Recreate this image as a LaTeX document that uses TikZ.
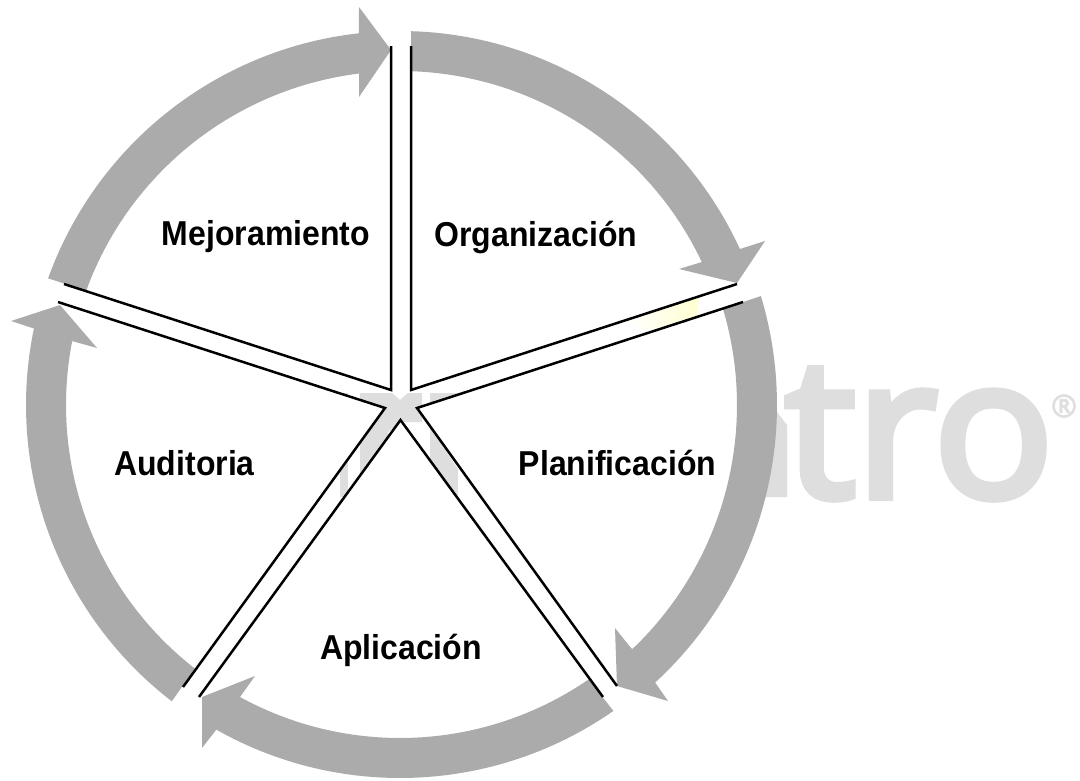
\documentclass[tikz,border=0pt]{standalone}
\usepackage{fontspec}
\setmainfont{Liberation Sans}
\newfontfamily\wmfont{Open Sans}[FakeBold=4]
\newfontfamily\wmreg{Open Sans}[FakeBold=2]
\definecolor{band}{HTML}{ABABAB}
\definecolor{wm}{HTML}{DEDEDE}
\tikzset{
  bandseg/.style={fill=band,draw=none},
  sector/.style={fill=white,draw=none},
  rib/.style={draw=black,line width=2.5pt,line join=miter,line cap=butt},
  lab/.style={font=\bfseries\fontsize{32}{32}\selectfont,text=black,inner sep=0pt,anchor=center,yscale=1.08},
  wmlab/.style={text=wm,inner sep=0pt,anchor=base west},
  arb/.style n args={3}{insert path={plot[domain=#1:#2,samples=60] ({400+#3*cos(\x)},{405+#3*sin(\x)})}},
  arm/.style n args={3}{insert path={-- plot[domain=#1:#2,samples=60] ({400+#3*cos(\x)},{405+#3*sin(\x)})}}
}
\begin{document}
\begin{tikzpicture}[x=1pt,y=-1pt]
\useasboundingbox[fill=white] (0,0) rectangle (1080,780);
% watermark
\node[wmlab,font=\wmfont\fontsize{194}{194}\selectfont,xscale=1.03] (wmtro) at (785,497) {tro};
\node[text=wm,inner sep=0pt,font=\wmreg\fontsize{31}{31}\selectfont] (wmr) at (1064,406) {®};
\fill[wm] (777,412) -- (787,425) -- (787,497) -- (765,497) -- cycle;
\fill[wm] (340,393) rectangle (348,497);
\fill[wm] (360,393) -- (392,393) -- (400,400) -- (408,393) -- (422,393) -- (422,422) -- (400,422) -- (388,432) -- (388,497) -- (360,497) -- cycle;
\fill[wm] (430,393) rectangle (458,497);
% white sectors
\fill[sector] (411,390) -- (411,60) [arm={-88}{-19}{345}] -- cycle;
\fill[sector] (417,408) -- (743,302) [arm={-18}{54}{345}] -- cycle;
\fill[sector] (400.5,420) -- (603,697) [arm={54}{125}{345}] -- cycle;
\fill[sector] (385,408) -- (183,687) [arm={125}{197}{345}] -- cycle;
\fill[sector] (391,390) -- (64,284) [arm={198}{268}{345}] -- cycle;
\shade[left color=white,right color=yellow!18] (625,322) -- (699,296) -- (697,316) -- (650,330) -- cycle;
% bands with heads
\fill[bandseg] [arb={-88.3}{-24.65}{374}] -- (765,241) -- (737,283) -- (679,269) -- (702,262) [arm={-25.3}{-88.1}{334}] -- cycle;
\fill[bandseg] [arb={-16.8}{47.4}{377}] -- (668,701) -- (617,686) -- (615,628) -- (631,648) [arm={46.4}{-16.6}{337}] -- cycle;
\fill[bandseg] [arb={55.1}{119.5}{373}] -- (202,748) -- (202,697) -- (255,676) -- (240,697) [arm={118.7}{55.5}{333}] -- cycle;
\fill[bandseg] [arb={127.6}{191.8}{374}] -- (11,321) -- (60,305) -- (97,348) -- (72,341) [arm={191}{127.9}{334}] -- cycle;
\fill[bandseg] [arb={199.8}{263.7}{374}] -- (359,7) -- (391,50) -- (359,97) -- (359,73) [arm={263}{200}{334}] -- cycle;
% ribs
\coordinate (oT) at (411,46);
\coordinate (oC) at (411,390);
\coordinate (oR) at (737,284);
\coordinate (pR) at (743,302);
\coordinate (pC) at (417,408);
\coordinate (pB) at (617,686);
\coordinate (aR) at (603,697);
\coordinate (aC) at (400.5,420);
\coordinate (aL) at (199,697);
\coordinate (uB) at (183,687);
\coordinate (uC) at (385,408);
\coordinate (uL) at (58,302);
\coordinate (mL) at (64,284);
\coordinate (mC) at (391,390);
\coordinate (mT) at (391,46);
\draw[rib] (oT) -- (oC) -- (oR);
\draw[rib] (pR) -- (pC) -- (pB);
\draw[rib] (aR) -- (aC) -- (aL);
\draw[rib] (uB) -- (uC) -- (uL);
\draw[rib] (mL) -- (mC) -- (mT);
% labels
\node[lab] (mej) at (266,237) {Mejoramiento};
\node[lab] (org) at (536,237) {Organización};
\node[lab] (aud) at (184.5,463) {Auditoria};
\node[lab] (pla) at (617.5,463) {Planificación};
\node[lab] (apl) at (401,650) {Aplicación};
\end{tikzpicture}
\end{document}
